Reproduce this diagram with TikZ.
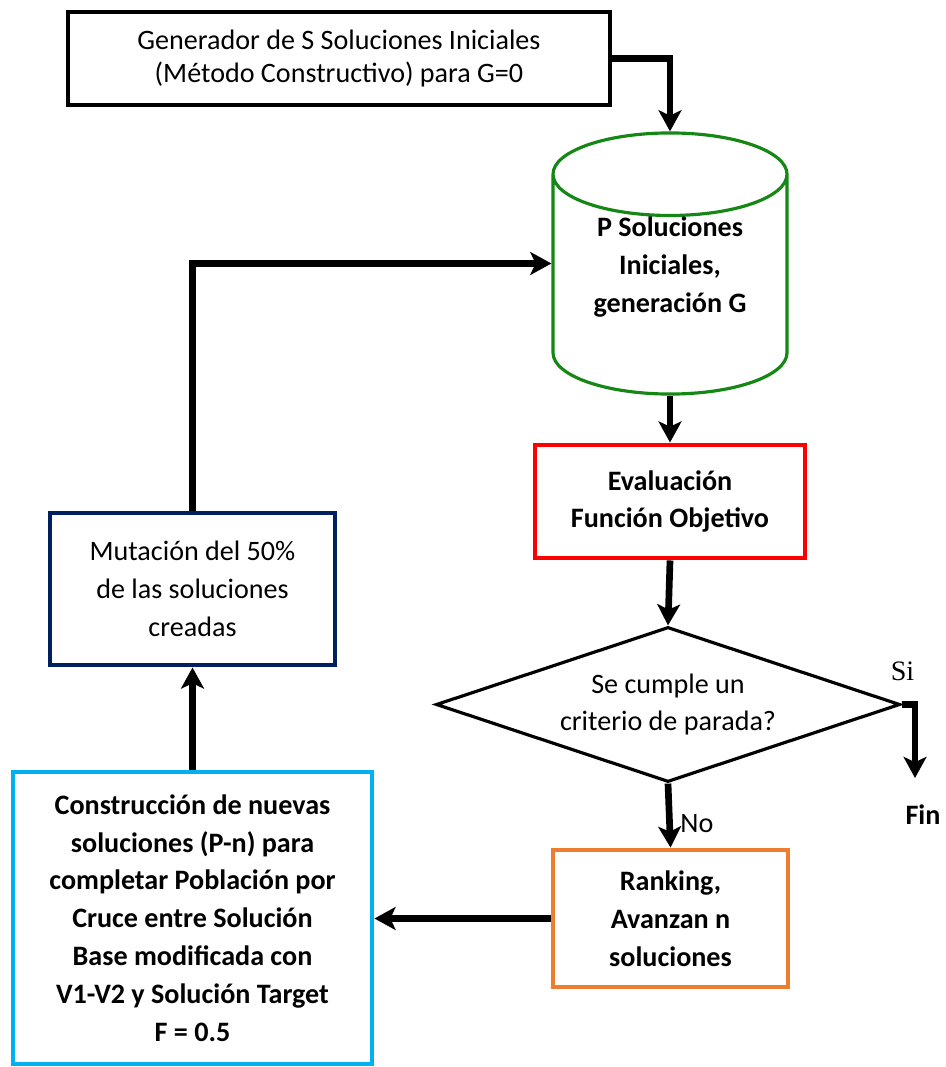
\documentclass[tikz,border=0pt]{standalone}
\usepackage{fontspec}
\setmainfont{Carlito}
\newfontfamily\siserif{Liberation Serif}
\usetikzlibrary{arrows.meta}
\usetikzlibrary{shapes}

\definecolor{verde}{RGB}{20,135,20}
\definecolor{naranja}{RGB}{237,125,49}
\definecolor{celeste}{RGB}{0,176,240}
\definecolor{marino}{RGB}{0,32,96}

\begin{document}
\begin{tikzpicture}[>={Stealth[length=12pt,width=13pt,inset=3pt]},
caja/.style={rectangle,draw,line width=2.8pt,align=center,inner sep=0pt,
font=\fontsize{16}{21.5}\selectfont},
negrita/.style={font=\fontsize{16}{21.5}\selectfont\bfseries}
]

\useasboundingbox (0,0) rectangle (18.9,-21.34);

\pgfmathsetmacro{\jobb}{13.4}

\node[caja,draw=black,line width=2.2pt,minimum width=10.84cm,minimum height=1.86cm,
font=\fontsize{16}{18.5}\selectfont](gen) at (6.78,-1.17){Generador de S Soluciones Iniciales\\(Método Constructivo) para G=0};

\node[cylinder,shape border rotate=90,aspect=0.54,draw=verde,line width=1.8pt,
minimum width=4.68cm,minimum height=5.22cm,align=center,inner sep=0pt,text depth=23pt,
anchor=shape center,negrita](pobl) at (\jobb,-5.27){P Soluciones\\Iniciales,\\generación G};

\node[caja,draw=red,minimum width=5.4cm,minimum height=2.26cm,negrita](eval) at (\jobb,-10.03){Evaluación\\Función Objetivo};

\node[diamond,aspect=3,draw,line width=1.8pt,minimum width=9.28cm,minimum height=3.1cm,
align=center,inner sep=0pt,font=\fontsize{16}{21.5}\selectfont](criterio) at (13.36,-14.09){Se cumple un\\criterio de parada?};

\node[caja,draw=naranja,minimum width=4.7cm,minimum height=2.74cm,negrita](ranking) at (13.41,-18.37){Ranking,\\Avanzan n\\soluciones};

\node[caja,draw=celeste,minimum width=7.18cm,minimum height=5.84cm,negrita](cruce) at (3.85,-18.36){Construcción de nuevas\\soluciones (P-n) para\\completar Población por\\Cruce entre Solución\\Base modificada con\\V1-V2 y Solución Target\\F = 0.5};

\node[caja,draw=marino,minimum width=5.7cm,minimum height=3.04cm](mutacion) at (3.85,-11.78){Mutación del 50\%\\de las soluciones\\creadas};

\node[negrita](fin) at (18.46,-16.3){Fin};
\coordinate (fin-tip) at (18.3,-15.56);

\begin{scope}[->, line width=3.8pt]
\draw (gen.east) -| (pobl.north);
\draw (pobl.south)--(eval.north);
\draw (eval.south)--(criterio.north);
\draw (criterio.south)--(ranking.north) node[pos=.62, right, inner sep=1.5mm, font=\fontsize{16}{18}\selectfont]{No};
\draw (criterio.east) -| (fin-tip) node[pos=0, above right, xshift=-4mm, yshift=3mm, font=\fontsize{16}{18}\selectfont\siserif]{Si};
\draw (ranking.west)--(cruce.east |- ranking.west);
\draw (cruce.north)--(mutacion.south);
\draw (mutacion.north) |- (pobl.shape center -| pobl.west);
\end{scope}

\end{tikzpicture}
\end{document}
